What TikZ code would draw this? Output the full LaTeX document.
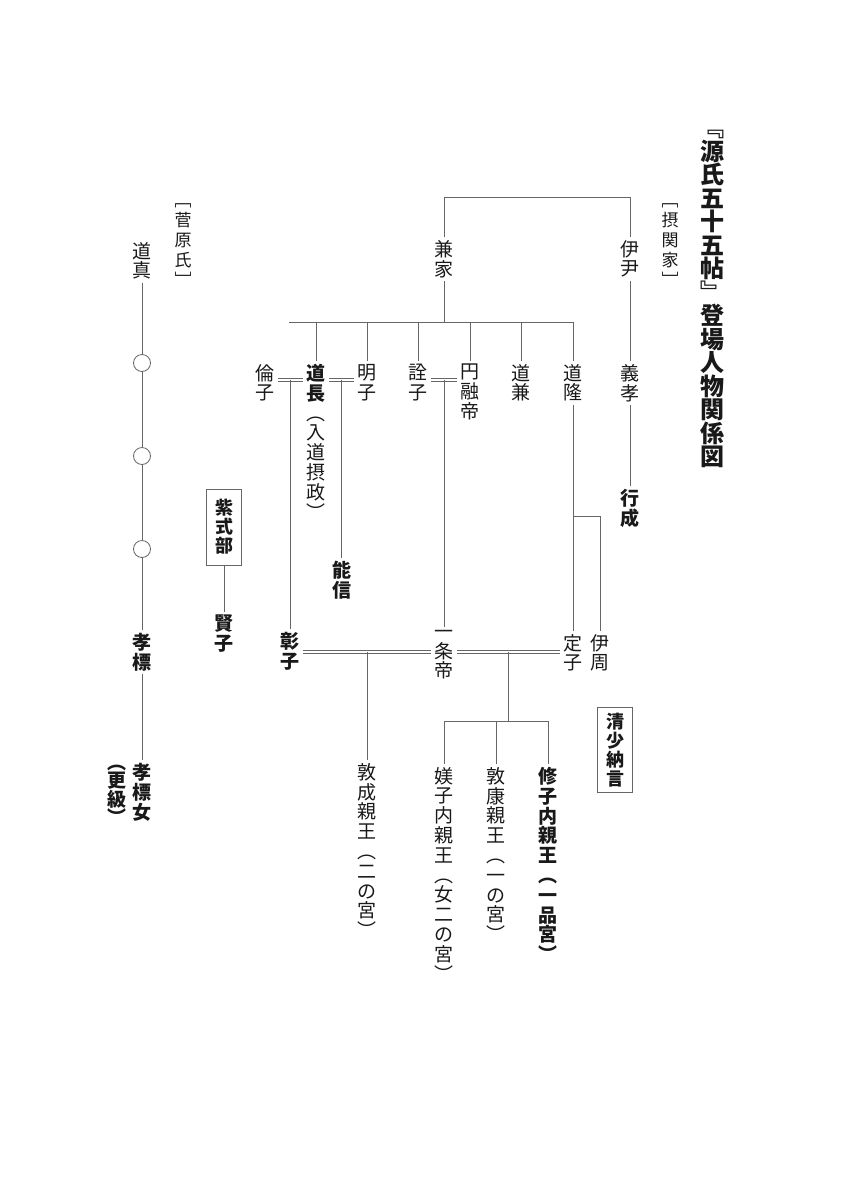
\documentclass[tikz,border=0pt]{standalone}
\usepackage{fontspec}
\newfontfamily\jp{Noto Sans CJK JP}
\begin{document}
\begin{tikzpicture}[x=1pt,y=-1pt,
  nm/.style={font=\jp\fontsize{19}{19.8}\selectfont,align=center,anchor=north,inner sep=3pt,text=black!90},
  nmb/.style={nm,font=\jp\bfseries\fontsize{19}{19.8}\selectfont},
  ln/.style={black!60,line width=0.8pt},
  marr/.style={black!60,double,double distance=2pt,line width=0.6pt},
  box/.style={nmb,draw=black!60,line width=0.8pt,anchor=center,minimum width=35pt,inner sep=2pt,
    font=\jp\bfseries\fontsize{18}{19}\selectfont},
  ring/.style={circle,draw=black!60,line width=0.8pt,minimum size=17pt,inner sep=0pt}]

\fill[white] (0,0) rectangle (847,1200);
\useasboundingbox (0,0) rectangle (847,1200);

% title and group labels
\node[nm,font=\jp\bfseries\fontsize{24}{23.5}\selectfont] (title) at (712,127) {﹃\\源\\氏\\五\\十\\五\\帖\\﹄\\登\\場\\人\\物\\関\\係\\図};
\node[nm,font=\jp\fontsize{17}{20}\selectfont] (sekkan) at (670,200) {﹇\\摂\\関\\家\\﹈};
\node[nm,font=\jp\fontsize{17}{20}\selectfont] (sugawara) at (183,200) {﹇\\菅\\原\\氏\\﹈};

% sekkan-ke
\node[nm] (koreta) at (630,237) {伊\\尹};
\node[nm] (kaneie) at (444,237) {兼\\家};
\node[nm] (yoshitaka) at (630,361) {義\\孝};
\node[nmb] (yukinari) at (630,486) {行\\成};

\node[nm] (michitaka) at (573,361) {道\\隆};
\node[nm] (michikane) at (521,361) {道\\兼};
\node[nm] (enyu) at (470,361) {円\\融\\帝};
\node[nm] (senshi) at (418,361) {詮\\子};
\node[nm] (akiko) at (367,361) {明\\子};
\node[nm] (michinaga) at (316,361) {{\bfseries 道}\\{\bfseries 長}\\︵\\入\\道\\摂\\政\\︶};
\node[nm] (rinshi) at (265,361) {倫\\子};
\node[nmb] (yoshinobu) at (342,558) {能\\信};

\node[nmb] (shoshi) at (290,629) {彰\\子};
\node[nm] (ichijo) at (444,627) {一\\条\\帝};
\node[nm] (teishi) at (573,631) {定\\子};
\node[nm] (korechika) at (600,631) {伊\\周};

\node[nm] (atsuhira) at (367,760) {敦\\成\\親\\王\\︵\\二\\の\\宮\\︶};
\node[nm] (biso) at (444,764) {媄\\子\\内\\親\\王\\︵\\女\\二\\の\\宮\\︶};
\node[nm] (atsuyasu) at (496,764) {敦\\康\\親\\王\\︵\\一\\の\\宮\\︶};
\node[nmb] (shushi) at (548,764) {修\\子\\内\\親\\王\\︵\\一\\品\\宮\\︶};

\node[box,minimum height=85pt] (sei) at (615,750) {清\\少\\納\\言};
\node[box,minimum height=76pt] (murasaki) at (224,527) {紫\\式\\部};
\node[nmb] (katako) at (224,612) {賢\\子};

% sugawara-shi
\node[nm] (michizane) at (142,239) {道\\真};
\node[ring] (c1) at (142,363) {};
\node[ring] (c2) at (142,456) {};
\node[ring] (c3) at (142,549) {};
\node[nmb] (takasue) at (142,630) {孝\\標};
\node[nmb] (musume) at (142,760) {孝\\標\\女};
\node[nmb,font=\jp\bfseries\fontsize{19}{18}\selectfont] (sarashina) at (117,762) {︵\\更\\級\\︶};

\coordinate (barL) at (289,322);
\coordinate (fork) at (573,516);
\coordinate (row2) at (0,380);
\coordinate (row3) at (0,652);
\coordinate (bar2) at (0,721);

\draw[ln] (kaneie.north) -- ++(0,-40) -| (koreta.north);
\draw[ln] (koreta) -- (yoshitaka);
\draw[ln] (yoshitaka) -- (yukinari);
\draw[ln] (kaneie) -- (kaneie |- barL);
\draw[ln] (barL) -- (michitaka.north |- barL) -- (michitaka);
\draw[ln] (michikane.north |- barL) -- (michikane);
\draw[ln] (enyu.north |- barL) -- (enyu);
\draw[ln] (senshi.north |- barL) -- (senshi);
\draw[ln] (akiko.north |- barL) -- (akiko);
\draw[ln] (michinaga.north |- barL) -- (michinaga);

\draw[marr] (rinshi.east |- row2) -- coordinate (m1) (michinaga.west |- row2);
\draw[marr] (michinaga.east |- row2) -- coordinate (m2) (akiko.west |- row2);
\draw[marr] (senshi.east |- row2) -- coordinate (m3) (enyu.west |- row2);
\draw[ln] (m1) -- (m1 |- shoshi.north);
\draw[ln] (m2) -- (m2 |- yoshinobu.north);
\draw[ln] (m3) -- (m3 |- ichijo.north);

\draw[ln] (michitaka) -- (teishi);
\draw[ln] (fork) -| (korechika);

\draw[marr] (shoshi.east |- row3) -- coordinate (m4) (ichijo.west |- row3);
\draw[marr] (ichijo.east |- row3) -- coordinate (m5) (teishi.west |- row3);
\draw[ln] (m4) -- (m4 |- atsuhira.north);
\draw[ln] (m5) -- (m5 |- bar2);
\draw[ln] (biso.north |- bar2) -- (shushi.north |- bar2);
\draw[ln] (biso.north |- bar2) -- (biso);
\draw[ln] (atsuyasu.north |- bar2) -- (atsuyasu);
\draw[ln] (shushi.north |- bar2) -- (shushi);

\draw[ln] (murasaki) -- (katako);
\draw[ln] (michizane) -- (c1);
\draw[ln] (c1) -- (c2);
\draw[ln] (c2) -- (c3);
\draw[ln] (c3) -- (takasue);
\draw[ln] (takasue) -- (musume);
\end{tikzpicture}
\end{document}
